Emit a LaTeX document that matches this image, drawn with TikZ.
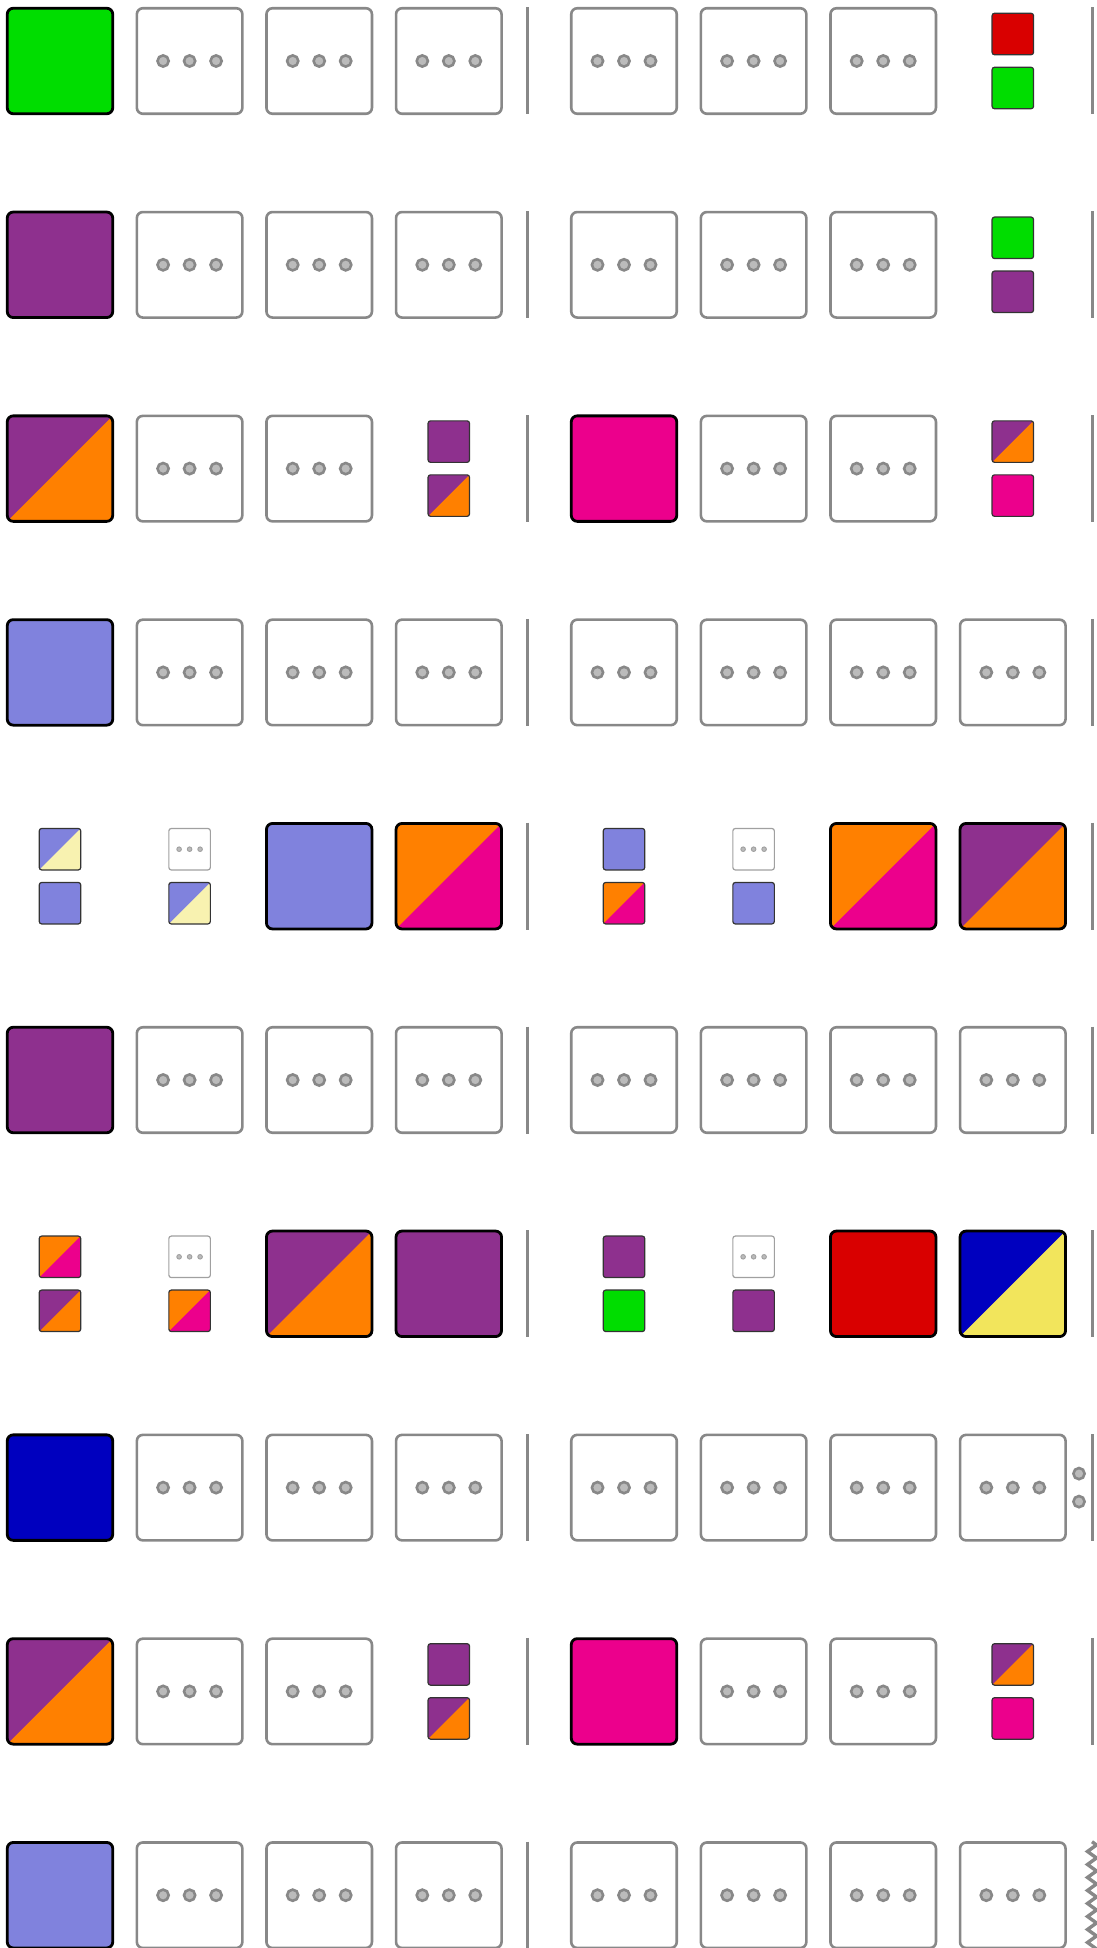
\documentclass[tikz,border=0pt]{standalone}
\usepackage{tikz}
\usetikzlibrary{positioning,decorations.pathmorphing}
\definecolor{boxgray}{RGB}{136,136,136}
\definecolor{dotgray}{RGB}{187,187,187}
\definecolor{chipline}{RGB}{51,51,51}
\definecolor{grn}{RGB}{0,221,0}
\definecolor{purp}{RGB}{142,48,142}
\definecolor{orng}{RGB}{255,128,0}
\definecolor{mag}{RGB}{236,0,140}
\definecolor{peri}{RGB}{128,130,221}
\definecolor{pale}{RGB}{248,242,176}
\definecolor{fred}{RGB}{217,0,0}
\definecolor{dblue}{RGB}{0,0,191}
\definecolor{yel}{RGB}{242,229,92}

\begin{document}
\begin{tikzpicture}[x=1pt,y=1pt,
  tile/.style={rectangle,rounded corners=6pt,inner sep=0pt,minimum size=105.5pt,draw=black,line width=2.8pt},
  blank/.style={tile,draw=boxgray,line width=2.6pt,fill=white,
    path picture={\foreach \d in {-1,0,1}
      \draw[boxgray,fill=dotgray,line width=2.6pt] ([xshift=\d*26.5pt]path picture bounding box.center) circle (5.6pt);}},
  chip/.style={rectangle,rounded corners=2.5pt,inner sep=0pt,minimum size=41.5pt,draw=chipline,line width=1.2pt},
  blankchip/.style={chip,draw=boxgray!80,fill=white,
    path picture={\foreach \d in {-1,0,1}
      \draw[boxgray!80,fill=dotgray,line width=0.9pt] ([xshift=\d*10.5pt]path picture bounding box.center) circle (2.3pt);}},
  split/.style 2 args={fill=#1,
    path picture={\fill[#2,sharp corners] (path picture bounding box.south west) -- (path picture bounding box.north east)
      -- (path picture bounding box.south east) -- cycle;}},
  knob/.style={circle,draw=boxgray,fill=dotgray,line width=2.6pt,minimum size=11.2pt,inner sep=0pt},
  sepline/.style={boxgray,line width=3pt}]
  \useasboundingbox (0,0) rectangle (1096,-1948);

  % grid of tile centres, separators at a/b
  \foreach \r in {1,...,10}{
    \foreach \c/\x in {1/60,2/189.6,3/319.2,4/448.8,5/624,6/753.6,7/883.2,8/1012.8}
      \coordinate (g\r-\c) at (\x,{-61-203.8*(\r-1)});
    \coordinate (a\r) at (527,{-61-203.8*(\r-1)});
    \coordinate (b\r) at (1092,{-61-203.8*(\r-1)});
  }

  % empty tiles
  \foreach \r/\cols in {1/{2,3,4,5,6,7},2/{2,3,4,5,6,7},3/{2,3,6,7},4/{2,...,8},6/{2,...,8},
                        8/{2,...,8},9/{2,3,6,7},10/{2,...,8}}
    \foreach \c in \cols \node[blank] (e\r-\c) at (g\r-\c) {};

  % filled tiles
  \node[tile,fill=grn] (t1-1) at (g1-1) {};
  \node[tile,fill=purp] (t2-1) at (g2-1) {};
  \node[tile,split={purp}{orng}] (t3-1) at (g3-1) {}; \node[tile,fill=mag] (t3-5) at (g3-5) {};
  \node[tile,fill=peri] (t4-1) at (g4-1) {};
  \node[tile,fill=peri] (t5-3) at (g5-3) {}; \node[tile,split={orng}{mag}] (t5-4) at (g5-4) {};
  \node[tile,split={orng}{mag}] (t5-7) at (g5-7) {}; \node[tile,split={purp}{orng}] (t5-8) at (g5-8) {};
  \node[tile,fill=purp] (t6-1) at (g6-1) {};
  \node[tile,split={purp}{orng}] (t7-3) at (g7-3) {}; \node[tile,fill=purp] (t7-4) at (g7-4) {};
  \node[tile,fill=fred] (t7-7) at (g7-7) {}; \node[tile,split={dblue}{yel}] (t7-8) at (g7-8) {};
  \node[tile,fill=dblue] (t8-1) at (g8-1) {};
  \node[tile,split={purp}{orng}] (t9-1) at (g9-1) {}; \node[tile,fill=mag] (t9-5) at (g9-5) {};
  \node[tile,fill=peri] (t10-1) at (g10-1) {};

  % chip pairs (a on top, b below)
  \node[chip,fill=fred] (s1-8a) at ([yshift=27pt]g1-8) {};
  \node[chip,fill=grn] (s1-8b) at ([yshift=-27pt]g1-8) {};
  \node[chip,fill=grn] (s2-8a) at ([yshift=27pt]g2-8) {};
  \node[chip,fill=purp] (s2-8b) at ([yshift=-27pt]g2-8) {};
  \node[chip,fill=purp] (s3-4a) at ([yshift=27pt]g3-4) {};
  \node[chip,split={purp}{orng}] (s3-4b) at ([yshift=-27pt]g3-4) {};
  \node[chip,split={purp}{orng}] (s3-8a) at ([yshift=27pt]g3-8) {};
  \node[chip,fill=mag] (s3-8b) at ([yshift=-27pt]g3-8) {};
  \node[chip,split={peri}{pale}] (s5-1a) at ([yshift=27pt]g5-1) {};
  \node[chip,fill=peri] (s5-1b) at ([yshift=-27pt]g5-1) {};
  \node[blankchip] (s5-2a) at ([yshift=27pt]g5-2) {};
  \node[chip,split={peri}{pale}] (s5-2b) at ([yshift=-27pt]g5-2) {};
  \node[chip,fill=peri] (s5-5a) at ([yshift=27pt]g5-5) {};
  \node[chip,split={orng}{mag}] (s5-5b) at ([yshift=-27pt]g5-5) {};
  \node[blankchip] (s5-6a) at ([yshift=27pt]g5-6) {};
  \node[chip,fill=peri] (s5-6b) at ([yshift=-27pt]g5-6) {};
  \node[chip,split={orng}{mag}] (s7-1a) at ([yshift=27pt]g7-1) {};
  \node[chip,split={purp}{orng}] (s7-1b) at ([yshift=-27pt]g7-1) {};
  \node[blankchip] (s7-2a) at ([yshift=27pt]g7-2) {};
  \node[chip,split={orng}{mag}] (s7-2b) at ([yshift=-27pt]g7-2) {};
  \node[chip,fill=purp] (s7-5a) at ([yshift=27pt]g7-5) {};
  \node[chip,fill=grn] (s7-5b) at ([yshift=-27pt]g7-5) {};
  \node[blankchip] (s7-6a) at ([yshift=27pt]g7-6) {};
  \node[chip,fill=purp] (s7-6b) at ([yshift=-27pt]g7-6) {};
  \node[chip,fill=purp] (s9-4a) at ([yshift=27pt]g9-4) {};
  \node[chip,split={purp}{orng}] (s9-4b) at ([yshift=-27pt]g9-4) {};
  \node[chip,split={purp}{orng}] (s9-8a) at ([yshift=27pt]g9-8) {};
  \node[chip,fill=mag] (s9-8b) at ([yshift=-27pt]g9-8) {};

  % separators
  \foreach \r in {1,...,10} \draw[sepline] ([yshift=53.5pt]a\r) -- ([yshift=-53.5pt]a\r);
  \foreach \r in {1,...,9} \draw[sepline] ([yshift=53.5pt]b\r) -- ([yshift=-53.5pt]b\r);
  \draw[sepline,line width=3.4pt,decorate,decoration={zigzag,segment length=13pt,amplitude=4.5pt}]
    ([yshift=53.5pt]b10) -- ([yshift=-60pt]b10);
  \node[knob] (k8a) at ([xshift=-13pt,yshift=14pt]b8) {};
  \node[knob] (k8b) at ([xshift=-13pt,yshift=-14pt]b8) {};
\end{tikzpicture}
\end{document}
